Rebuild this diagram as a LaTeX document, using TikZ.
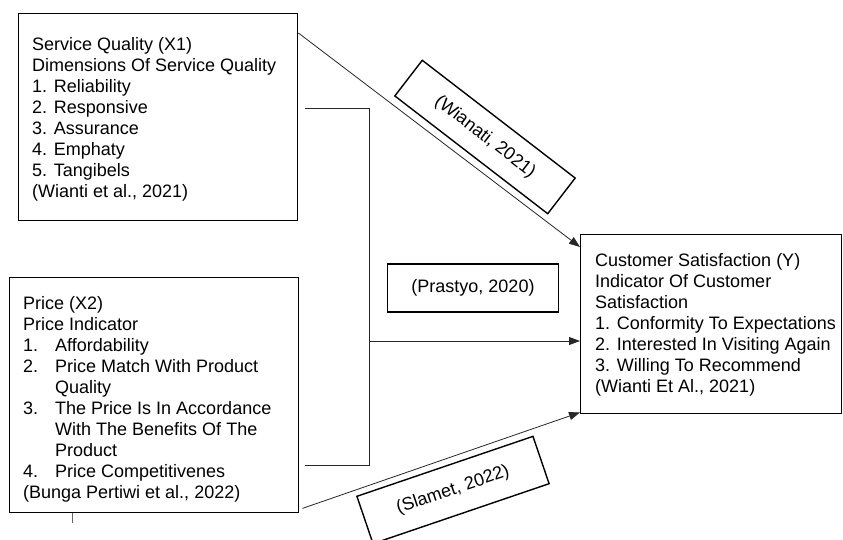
\documentclass[tikz,border=0pt]{standalone}
\usepackage{fontspec}
\setmainfont{Liberation Sans}
\usetikzlibrary{arrows.meta}

\tikzset{
  frame/.style={draw, rectangle, line width=1.4pt, inner sep=0pt, anchor=north west},
  list/.style={align=left, inner sep=0pt, anchor=north west, font=\fontsize{18}{21}\selectfont},
  cite/.style={draw, rectangle, line width=1.4pt, inner sep=0pt, font=\fontsize{18}{21}\selectfont},
  link/.style={line width=0.8pt, draw=black!85},
  arr/.style={link, -{Triangle[length=11pt,width=8pt]}}
}
\newcommand{\pnum}[1]{\makebox[32pt][l]{#1}}

\begin{document}
\begin{tikzpicture}[x=1pt, y=-1pt]
  \useasboundingbox (0,0) rectangle (843,539);

  \node[frame, minimum width=279pt, minimum height=207pt] (SQ) at (18,13) {};
  \node[list] (SQText) at ([shift={(14,24)}]SQ.north west) {Service Quality (X1)\\
    Dimensions Of Service Quality\\
    1. Reliability\\
    2. Responsive\\
    3. Assurance\\
    4. Emphaty\\
    5. Tangibels\\
    (Wianti et al., 2021)};

  \node[frame, minimum width=289pt, minimum height=235pt] (Price) at (9,277) {};
  \node[list] (PriceText) at ([shift={(14,19)}]Price.north west) {Price (X2)\\
    Price Indicator\\
    \pnum{1.}Affordability\\
    \pnum{2.}Price Match With Product\\
    \pnum{}Quality\\
    \pnum{3.}The Price Is In Accordance\\
    \pnum{}With The Benefits Of The\\
    \pnum{}Product\\
    \pnum{4.}Price Competitivenes\\
    (Bunga Pertiwi et al., 2022)};

  \node[frame, minimum width=261pt, minimum height=179pt] (Y) at (580,234) {};
  \node[list] (YText) at ([shift={(15,19)}]Y.north west) {Customer Satisfaction (Y)\\
    Indicator Of Customer\\
    Satisfaction\\
    1. Conformity To Expectations\\
    2. Interested In Visiting Again\\
    3. Willing To Recommend\\
    (Wianti Et Al., 2021)};

  % citation boxes
  \node[cite, minimum width=171pt, minimum height=48pt] (Prastyo) at (473,288) {(Prastyo, 2020)};
  \node[cite, rotate=-37.6, minimum width=193pt, minimum height=45pt] (Wianati) at (485,137) {(Wianati, 2021)};
  \node[cite, rotate=18.8, minimum width=186pt, minimum height=50pt] (Slamet) at (453,490) {(Slamet, 2022)};

  % joint bracket from both boxes
  \coordinate (SQTab) at (305,108);
  \coordinate (PriceTab) at (305,465);
  \coordinate (JTop) at (369,108);
  \coordinate (JBot) at (369,465);
  \coordinate (JMid) at (369,341);
  \draw[link] (SQTab) -- (JTop) -- (JBot) -- (PriceTab);
  \draw[arr] (JMid) -- (JMid -| Y.west);

  \draw[arr] ([yshift=-20pt]SQ.north east) -- ([yshift=-13pt]Y.north west);
  \draw[arr] ([shift={(3,-5)}]Price.south east) -- ([yshift=2pt]Y.south west);

  \coordinate (Tick) at (72,523);
  \draw[link, draw=black!60] (Tick |- Price.south) -- (Tick);
\end{tikzpicture}
\end{document}
